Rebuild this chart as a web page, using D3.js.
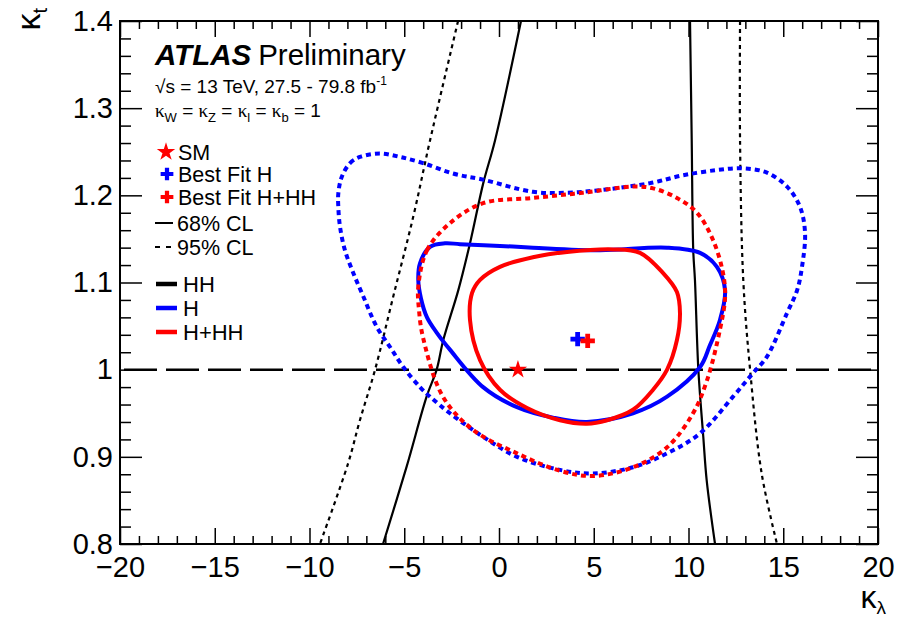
<!DOCTYPE html>
<html>
<head>
<meta charset="UTF-8">
<title>kappa_lambda vs kappa_t</title>
<script src="https://cdn.jsdelivr.net/npm/d3@7"></script>
<style>
  body { margin: 0; background: #fff; }
  text { font-family: "Liberation Sans", Arial, Helvetica, sans-serif; }
</style>
</head>
<body>
<div id="chart"></div>
<script>
// ---- axis ticks ----
const xMajor = [-20, -15, -10, -5, 0, 5, 10, 15, 20];
const xLabels = ["\u221220", "\u221215", "\u221210", "\u22125", "0", "5", "10", "15", "20"];
const yMajor = [0.8, 0.9, 1.0, 1.1, 1.2, 1.3, 1.4];
const yLabels = ["0.8", "0.9", "1", "1.1", "1.2", "1.3", "1.4"];

// ---- HH only (two open branches per CL), [kappa_lambda, kappa_t] ----
const hh68Left = [[1.16, 1.4], [-0.21, 1.263], [-0.83, 1.214], [-1.53, 1.145], [-2.15, 1.091],
  [-2.94, 1.034], [-3.29, 1.0], [-3.82, 0.969], [-4.87, 0.889], [-6.12, 0.8]];
const hh68Right = [[10.08, 1.4], [10.17, 1.263], [10.25, 1.137], [10.34, 1.103], [10.52, 1.0],
  [10.78, 0.923], [10.96, 0.873], [11.40, 0.8]];
const hh95Left = [[-2.16, 1.4], [-3.64, 1.263], [-4.52, 1.176], [-5.58, 1.084], [-6.54, 1.0],
  [-7.34, 0.942], [-7.97, 0.892], [-9.45, 0.8]];
const hh95Right = [[12.72, 1.4], [12.72, 1.263], [12.89, 1.103], [13.25, 1.0], [13.86, 0.881], [14.67, 0.8]];

// ---- H only (closed contours) ----
const h68 = [[-4.26, 1.103], [-4.17, 1.122], [-3.64, 1.141], [-2.85, 1.145], [-2.06, 1.144],
  [0.05, 1.142], [1.79, 1.140], [5.33, 1.137], [8.87, 1.140], [10.61, 1.134], [11.50, 1.118],
  [11.93, 1.091], [11.66, 1.057], [11.13, 1.028], [10.61, 1.003], [8.87, 0.969], [7.07, 0.950],
  [4.64, 0.940], [2.85, 0.945], [0.95, 0.957], [-0.84, 0.980], [-2.59, 1.023], [-3.27, 1.042],
  [-3.80, 1.060], [-4.12, 1.082]];
const h95 = [[-8.30, 1.221], [-7.86, 1.237], [-7.34, 1.244], [-6.28, 1.248], [-5.22, 1.244],
  [-4.01, 1.237], [-2.43, 1.225], [-0.84, 1.218], [1.79, 1.204], [3.59, 1.203], [5.33, 1.206],
  [7.97, 1.214], [9.71, 1.223], [11.50, 1.229], [12.88, 1.231], [14.14, 1.226], [15.20, 1.210],
  [15.88, 1.187], [16.15, 1.157], [15.99, 1.118], [15.73, 1.091], [15.20, 1.065], [14.14, 1.015],
  [13.40, 0.996], [12.35, 0.969], [10.61, 0.927], [8.87, 0.904], [7.07, 0.888], [4.96, 0.881],
  [3.22, 0.885], [0.95, 0.900], [-0.84, 0.923], [-2.59, 0.950], [-3.64, 0.969], [-4.17, 0.980],
  [-5.05, 1.003], [-5.75, 1.026], [-6.45, 1.049], [-7.16, 1.084], [-7.69, 1.111], [-8.13, 1.137],
  [-8.39, 1.164], [-8.48, 1.187], [-8.48, 1.202]];

// ---- H+HH (closed contours) ----
const hhh68 = [[-1.00, 1.103], [0.05, 1.118], [1.79, 1.129], [3.59, 1.135], [6.02, 1.138],
  [7.44, 1.134], [8.65, 1.111], [9.39, 1.089], [9.55, 1.065], [9.39, 1.034], [8.87, 1.000],
  [8.13, 0.977], [7.07, 0.954], [5.70, 0.942], [4.64, 0.938], [3.22, 0.942], [1.48, 0.956],
  [0.05, 0.977], [-1.00, 1.011], [-1.53, 1.057], [-1.42, 1.088]];
const hhh95 = [[-4.26, 1.095], [-3.80, 1.137], [-2.59, 1.168], [-0.84, 1.191], [1.79, 1.197],
  [4.43, 1.203], [7.07, 1.210], [8.13, 1.208], [9.39, 1.197], [10.45, 1.180], [11.29, 1.149],
  [11.82, 1.111], [11.93, 1.083], [11.66, 1.046], [10.98, 0.988], [10.24, 0.950], [8.87, 0.911],
  [7.07, 0.888], [4.96, 0.878], [3.22, 0.884], [0.95, 0.904], [-1.37, 0.931], [-2.96, 0.969],
  [-4.01, 1.037], [-4.22, 1.068]];

// ---- points ----
const smPoint = [1.0, 1.0];
const bestFitH = [4.15, 1.035];
const bestFitHHH = [4.68, 1.033];

// ---- legend ----
const legendMarkers = ["SM", "Best Fit H", "Best Fit H+HH"];
const legendStyles = ["68% CL", "95% CL"];
const legendModels = ["HH", "H", "H+HH"];

const W = 897, H = 621;
const fLeft = 120, fRight = 878, fTop = 21, fBottom = 544;
const blue = "#0000ff", red = "#ff0000";

const svg = d3.select("#chart").append("svg")
  .attr("width", W).attr("height", H);

const x = d3.scaleLinear().domain([-20, 20]).range([fLeft, fRight]);
const y = d3.scaleLinear().domain([0.8, 1.4]).range([fBottom, fTop]);

svg.append("clipPath").attr("id", "frame")
  .append("rect").attr("x", fLeft).attr("y", fTop)
  .attr("width", fRight - fLeft).attr("height", fBottom - fTop);

// axes (ROOT style: ticks inside on all four sides)
const xMinor = d3.range(-20, 21, 1).filter(v => v % 5 !== 0);
const yMinor = d3.range(0, 31).map(i => +(0.8 + i * 0.02).toFixed(2))
  .filter(v => Math.abs(v * 10 - Math.round(v * 10)) > 1e-6);

function styleAxis(g, fs) {
  g.select(".domain").remove();
  g.selectAll("line").attr("stroke", "#000").attr("stroke-width", 1.5);
  g.selectAll("text").attr("font-size", fs).attr("fill", "#000")
    .attr("font-family", "'Liberation Sans', Arial, sans-serif");
}

svg.append("g").attr("transform", `translate(0,${fBottom})`)
  .call(d3.axisBottom(x).tickValues(xMajor).tickSize(-16).tickPadding(12)
    .tickFormat((d, i) => xLabels[i]))
  .call(g => styleAxis(g, 29));
svg.append("g").attr("transform", `translate(0,${fBottom})`)
  .call(d3.axisBottom(x).tickValues(xMinor).tickSize(-8).tickFormat(""))
  .call(g => styleAxis(g, 0));
svg.append("g").attr("transform", `translate(0,${fTop})`)
  .call(d3.axisTop(x).tickValues(xMajor).tickSize(-16).tickFormat(""))
  .call(g => styleAxis(g, 0));
svg.append("g").attr("transform", `translate(0,${fTop})`)
  .call(d3.axisTop(x).tickValues(xMinor).tickSize(-8).tickFormat(""))
  .call(g => styleAxis(g, 0));

svg.append("g").attr("transform", `translate(${fLeft},0)`)
  .call(d3.axisLeft(y).tickValues(yMajor).tickSize(-22).tickPadding(7)
    .tickFormat((d, i) => yLabels[i]))
  .call(g => styleAxis(g, 29));
svg.append("g").attr("transform", `translate(${fLeft},0)`)
  .call(d3.axisLeft(y).tickValues(yMinor).tickSize(-11).tickFormat(""))
  .call(g => styleAxis(g, 0));
svg.append("g").attr("transform", `translate(${fRight},0)`)
  .call(d3.axisRight(y).tickValues(yMajor).tickSize(-22).tickFormat(""))
  .call(g => styleAxis(g, 0));
svg.append("g").attr("transform", `translate(${fRight},0)`)
  .call(d3.axisRight(y).tickValues(yMinor).tickSize(-11).tickFormat(""))
  .call(g => styleAxis(g, 0));

// axis titles
const yt = svg.append("text")
  .attr("transform", "translate(40,8) rotate(-90)")
  .attr("text-anchor", "end")
  .attr("font-family", "'Liberation Serif', serif");
yt.append("tspan").attr("font-size", 34).text("\u03ba");
yt.append("tspan").attr("font-size", 20).attr("dy", 7)
  .attr("font-family", "'Liberation Sans', sans-serif").text("t");

const xt = svg.append("text")
  .attr("x", 886).attr("y", 608)
  .attr("text-anchor", "end")
  .attr("font-family", "'Liberation Serif', serif");
xt.append("tspan").attr("font-size", 32).text("\u03ba");
xt.append("tspan").attr("font-size", 19).attr("dy", 6).text("\u03bb");

// plot content
const plot = svg.append("g").attr("clip-path", "url(#frame)");

// SM reference line kappa_t = 1
plot.append("line")
  .attr("x1", x(-20)).attr("x2", x(20))
  .attr("y1", y(1)).attr("y2", y(1))
  .attr("stroke", "#000").attr("stroke-width", 2.5)
  .attr("stroke-dasharray", "33,9").attr("stroke-dashoffset", -4);

const openLine = d3.line().x(d => x(d[0])).y(d => y(d[1])).curve(d3.curveCatmullRom);
const closedLine = d3.line().x(d => x(d[0])).y(d => y(d[1])).curve(d3.curveCatmullRomClosed);

[[hh68Left, null], [hh68Right, null], [hh95Left, "4,4"], [hh95Right, "4,4"]].forEach(([d, dash]) => {
  plot.append("path").attr("d", openLine(d))
    .attr("fill", "none").attr("stroke", "#000").attr("stroke-width", 2.2)
    .attr("stroke-dasharray", dash);
});

[[h95, blue, "5,4"], [h68, blue, null], [hhh95, red, "5,4"], [hhh68, red, null]].forEach(([d, c, dash]) => {
  plot.append("path").attr("d", closedLine(d))
    .attr("fill", "none").attr("stroke", c).attr("stroke-width", 4)
    .attr("stroke-dasharray", dash);
});

const star = d3.symbol().type(d3.symbolStar).size(105);
const cross = d3.symbol().type(d3.symbolCross).size(115);

plot.append("path").attr("d", star())
  .attr("transform", `translate(${x(smPoint[0])},${y(smPoint[1])})`).attr("fill", red);
plot.append("path").attr("d", cross())
  .attr("transform", `translate(${x(bestFitH[0])},${y(bestFitH[1])})`).attr("fill", blue);
plot.append("path").attr("d", cross())
  .attr("transform", `translate(${x(bestFitHHH[0])},${y(bestFitHHH[1])})`).attr("fill", red);

// frame
svg.append("rect").attr("x", fLeft).attr("y", fTop)
  .attr("width", fRight - fLeft).attr("height", fBottom - fTop)
  .attr("fill", "none").attr("stroke", "#000").attr("stroke-width", 2);

// ATLAS label
const atl = svg.append("text").attr("x", 155).attr("y", 65).attr("font-size", 29.5);
atl.append("tspan").attr("font-weight", "bold").attr("font-style", "italic").text("ATLAS");
atl.append("tspan").attr("dx", 7).text("Preliminary");

const l2 = svg.append("text").attr("x", 155).attr("y", 93).attr("font-size", 19);
l2.append("tspan").text("\u221as = 13 TeV, 27.5 - 79.8 fb");
l2.append("tspan").attr("font-size", 12).attr("dy", -8).text("-1");

const l3 = svg.append("text").attr("x", 155).attr("y", 117).attr("font-size", 19);
[["W", " = "], ["Z", " = "], ["l", " = "], ["b", " = 1"]].forEach(([sub, rest]) => {
  l3.append("tspan").attr("font-family", "'Liberation Serif', serif").text("\u03ba");
  l3.append("tspan").attr("font-size", 13).attr("dy", 5).text(sub);
  l3.append("tspan").attr("dy", -5).text(rest);
});

// legend
const lg = svg.append("g");
const markerRows = [152, 174, 197];
lg.append("path").attr("d", star()).attr("transform", `translate(166,${markerRows[0]})`).attr("fill", red);
lg.append("path").attr("d", cross.size(90)()).attr("transform", `translate(167,${markerRows[1]})`).attr("fill", blue);
lg.append("path").attr("d", cross.size(90)()).attr("transform", `translate(167,${markerRows[2]})`).attr("fill", red);
legendMarkers.forEach((t, i) => {
  lg.append("text").attr("x", 178).attr("y", markerRows[i]).attr("dy", "0.35em")
    .attr("font-size", 21.5).text(t);
});

const styleRows = [223, 247];
lg.append("line").attr("x1", 155).attr("x2", 173).attr("y1", styleRows[0]).attr("y2", styleRows[0])
  .attr("stroke", "#000").attr("stroke-width", 2);
lg.append("line").attr("x1", 155).attr("x2", 171).attr("y1", styleRows[1]).attr("y2", styleRows[1])
  .attr("stroke", "#000").attr("stroke-width", 2).attr("stroke-dasharray", "5,6");
legendStyles.forEach((t, i) => {
  lg.append("text").attr("x", 177).attr("y", styleRows[i]).attr("dy", "0.35em")
    .attr("font-size", 21.5).text(t);
});

const modelRows = [284, 308, 332];
const modelColors = ["#000", blue, red];
legendModels.forEach((t, i) => {
  lg.append("line").attr("x1", 156).attr("x2", 177).attr("y1", modelRows[i]).attr("y2", modelRows[i])
    .attr("stroke", modelColors[i]).attr("stroke-width", 4.5);
  lg.append("text").attr("x", 183).attr("y", modelRows[i]).attr("dy", "0.35em")
    .attr("font-size", 22).text(t);
});
</script>
</body>
</html>
